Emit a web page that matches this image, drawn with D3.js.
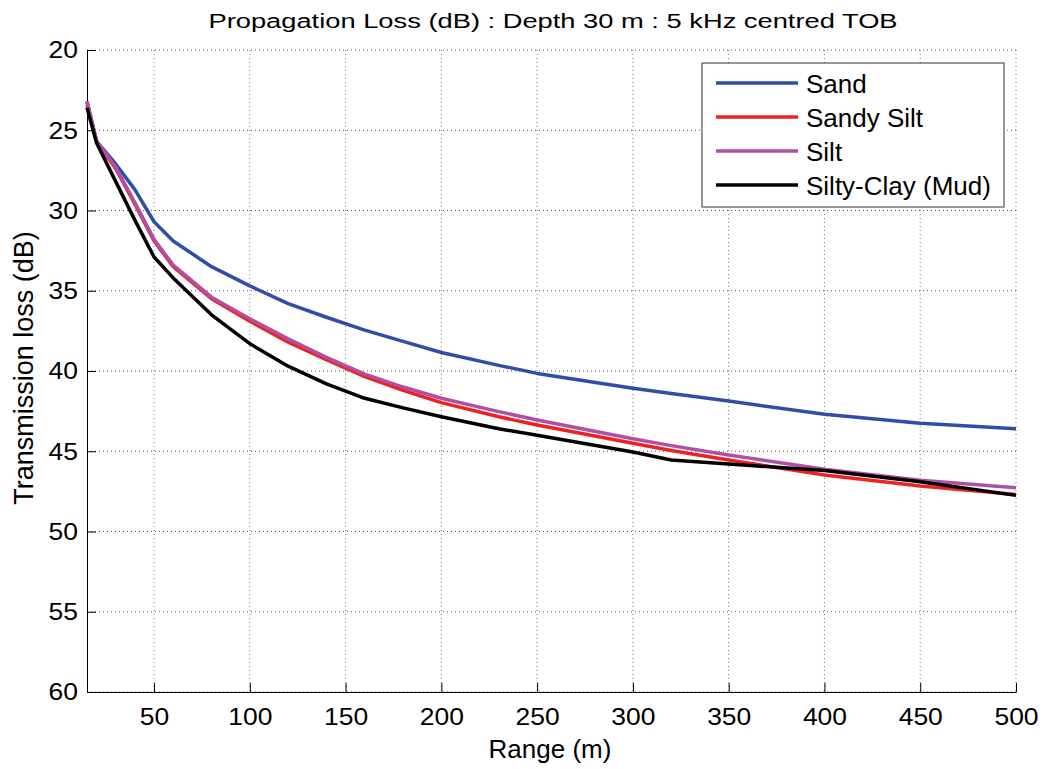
<!DOCTYPE html>
<html>
<head>
<meta charset="utf-8">
<script src="https://cdn.jsdelivr.net/npm/d3@7"></script>
<style>
  body { margin: 0; background: #fff; }
  text { font-family: "Liberation Sans", Arial, sans-serif; fill: #000; }
</style>
</head>
<body>
<div id="chart"></div>
<script>
"use strict";

// range points (m)
var range = [15, 20, 30, 40, 50, 60, 80, 100, 120, 140, 160, 180, 200, 230, 250, 300, 320, 350, 400, 450, 500];

// transmission loss (dB) per sediment type
var sand       = [23.2, 25.7, 27.1, 28.7, 30.7, 31.9, 33.5, 34.7, 35.8, 36.65, 37.45, 38.15, 38.85, 39.65, 40.15, 41.08, 41.4, 41.87, 42.7, 43.26, 43.6];
var sandySilt  = [23.4, 25.7, 27.4, 29.6, 31.9, 33.5, 35.5, 36.9, 38.2, 39.3, 40.35, 41.2, 41.97, 42.85, 43.36, 44.5, 44.95, 45.55, 46.48, 47.17, 47.7];
var silt       = [23.2, 25.7, 27.3, 29.5, 31.8, 33.4, 35.4, 36.75, 38.0, 39.15, 40.2, 41.0, 41.7, 42.53, 43.05, 44.22, 44.65, 45.23, 46.12, 46.8, 47.27];
var siltyClay  = [23.6, 25.8, 28.2, 30.6, 32.9, 34.2, 36.5, 38.3, 39.7, 40.8, 41.7, 42.3, 42.85, 43.6, 44.0, 45.05, 45.55, 45.8, 46.2, 46.9, 47.75];

var seriesNames = ["Sand", "Sandy Silt", "Silt", "Silty-Clay (Mud)"];
var seriesValues = [sand, sandySilt, silt, siltyClay];
var seriesColors = ["#2f4ea6", "#ee2222", "#b04fa6", "#000000"];

var xTicks = [50, 100, 150, 200, 250, 300, 350, 400, 450, 500];
var yTicks = [20, 25, 30, 35, 40, 45, 50, 55, 60];

var W = 1043, H = 769;
var margin = {top: 50, right: 27, bottom: 77, left: 87};
var w = W - margin.left - margin.right;
var h = H - margin.top - margin.bottom;

var tickScale = 1.15; // tick labels are drawn a bit wide

var svg = d3.select("#chart")
    .append("svg")
    .attr("width", W)
    .attr("height", H);

var g = svg.append("g")
    .attr("transform", "translate(" + margin.left + "," + margin.top + ")");

var x = d3.scaleLinear().domain([15, 500]).range([0, w]);
var y = d3.scaleLinear().domain([20, 60]).range([0, h]);

// grid lines
g.append("g")
    .selectAll("line")
    .data(xTicks)
    .enter()
    .append("line")
    .attr("x1", function(d) { return x(d); })
    .attr("x2", function(d) { return x(d); })
    .attr("y1", 0)
    .attr("y2", h)
    .attr("stroke", "#777")
    .attr("stroke-width", 1)
    .attr("stroke-dasharray", "1,3");

g.append("g")
    .selectAll("line")
    .data(yTicks)
    .enter()
    .append("line")
    .attr("x1", 0)
    .attr("x2", w)
    .attr("y1", function(d) { return y(d); })
    .attr("y2", function(d) { return y(d); })
    .attr("stroke", "#555")
    .attr("stroke-width", 1)
    .attr("stroke-dasharray", "1,3");

// axes with inward ticks
var xAxis = g.append("g")
    .attr("transform", "translate(0," + h + ")")
    .call(d3.axisBottom(x).tickValues(xTicks).tickSizeInner(-9).tickSizeOuter(0));
var yAxis = g.append("g")
    .call(d3.axisLeft(y).tickValues(yTicks).tickSizeInner(-9).tickSizeOuter(0));

[xAxis, yAxis].forEach(function(a) {
    a.selectAll("path").attr("stroke", "#000");
    a.selectAll("line").attr("stroke", "#000");
    a.selectAll("text")
        .style("font-size", "23px")
        .style("font-family", "'Liberation Sans', Arial, sans-serif")
        .attr("fill", "#000")
        .attr("transform", "scale(" + tickScale + ",1)");
});

xAxis.selectAll("text")
    .attr("y", 33)
    .attr("dy", 0);
yAxis.selectAll("text")
    .attr("x", -9 / tickScale)
    .attr("dy", "0.34em");

// lines
var line = d3.line()
    .x(function(d, i) { return x(range[i]); })
    .y(function(d) { return y(d); });

g.append("g")
    .selectAll("path")
    .data(seriesValues)
    .enter()
    .append("path")
    .attr("d", function(d) { return line(d); })
    .attr("fill", "none")
    .attr("stroke", function(d, i) { return seriesColors[i]; })
    .attr("stroke-width", 3.5)
    .attr("stroke-linejoin", "round");

// title and axis labels
svg.append("text")
    .attr("transform", "translate(553,28) scale(1.3,1)")
    .style("text-anchor", "middle")
    .style("font-size", "21px")
    .text("Propagation Loss (dB) : Depth 30 m : 5 kHz centred TOB");

svg.append("text")
    .attr("x", 550)
    .attr("y", 758)
    .style("text-anchor", "middle")
    .style("font-size", "26px")
    .text("Range (m)");

svg.append("text")
    .attr("transform", "translate(33,368) rotate(-90)")
    .style("text-anchor", "middle")
    .style("font-size", "27px")
    .text("Transmission loss (dB)");

// legend
var legend = svg.append("g").attr("transform", "translate(702,63)");
legend.append("rect")
    .attr("width", 302)
    .attr("height", 144)
    .attr("fill", "#fff")
    .attr("stroke", "#333")
    .attr("stroke-width", 1);

var items = legend.selectAll(".legend")
    .data(seriesNames)
    .enter()
    .append("g")
    .attr("class", "legend")
    .attr("transform", function(d, i) { return "translate(0," + (20 + i * 34) + ")"; });

items.append("line")
    .attr("x1", 14)
    .attr("x2", 96)
    .attr("stroke", function(d, i) { return seriesColors[i]; })
    .attr("stroke-width", 3.5);

items.append("text")
    .attr("x", 104)
    .attr("y", 10)
    .style("font-size", "26px")
    .text(function(d) { return d; });
</script>
</body>
</html>
